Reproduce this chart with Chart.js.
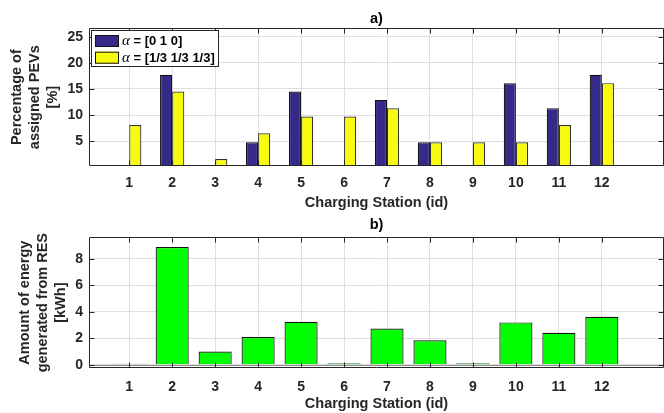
<!DOCTYPE html>
<html>
<head>
<meta charset="utf-8">
<script src="https://cdn.jsdelivr.net/npm/chart.js@4.4.1/dist/chart.umd.min.js"></script>
<style>
  body { margin: 0; background: #fff; }
  .panel { position: absolute; left: 0; width: 664px; }
</style>
</head>
<body>
<div class="panel" style="top:0;height:212px"><canvas id="chartA"></canvas></div>
<div class="panel" style="top:212px;height:201px"><canvas id="chartB"></canvas></div>
<script>
// data
const stations = [1, 2, 3, 4, 5, 6, 7, 8, 9, 10, 11, 12]
const seriesLabels = ['α = [0 1 0]', 'α = [1/3 1/3 1/3]']
const pevsAlpha010 = [0, 17.7, 0, 4.8, 14.5, 0, 12.9, 4.8, 0, 16.1, 11.3, 17.7]
const pevsAlphaEq = [8.1, 14.5, 1.6, 6.5, 9.7, 9.7, 11.3, 4.8, 4.8, 4.8, 8.1, 16.1]
const resEnergy = [0.08, 8.9, 1.0, 2.1, 3.25, 0.1, 2.73, 1.85, 0.1, 3.2, 2.42, 3.62]
const ticksA = [5, 10, 15, 20, 25]
const ticksB = [0, 2, 4, 6, 8]

const axisColor = '#262626'
const gridColor = '#dfdfdf'
const fontFamily = '"Liberation Sans", Arial, sans-serif'
const tickFont = { family: fontFamily, size: 14, weight: 'bold' }
const labelFont = { family: fontFamily, size: 14.5, weight: 'bold' }

Chart.defaults.font.family = fontFamily
Chart.defaults.animation = false

const toPoints = (vals) => stations.map((s, i) => ({ x: s, y: vals[i] }))

// MATLAB-like axes box with inward ticks (+ bar baseline)
const frame = {
  id: 'frame',
  beforeDatasetsDraw(chart, args, opts) {
    if (!opts.baseline) return
    const { ctx, chartArea: a, scales } = chart
    const y = Math.round(scales.y.getPixelForValue(0)) + 0.5
    ctx.save()
    ctx.strokeStyle = '#8a8a8a'
    ctx.lineWidth = 1.2
    ctx.beginPath()
    ctx.moveTo(a.left, y)
    ctx.lineTo(a.right, y)
    ctx.stroke()
    ctx.restore()
  },
  afterDatasetsDraw(chart) {
    const { ctx, chartArea: a, scales } = chart
    const l = Math.round(a.left) + 0.5, r = Math.round(a.right) - 0.5
    const t = Math.round(a.top) + 0.5, b = Math.round(a.bottom) - 0.5
    ctx.save()
    ctx.strokeStyle = axisColor
    ctx.lineWidth = 1
    ctx.beginPath()
    ctx.rect(l, t, r - l, b - t)
    scales.x.ticks.forEach(tk => {
      const px = Math.round(scales.x.getPixelForValue(tk.value)) + 0.5
      ctx.moveTo(px, t); ctx.lineTo(px, t + 5)
      ctx.moveTo(px, b); ctx.lineTo(px, b - 5)
    })
    scales.y.ticks.forEach(tk => {
      const py = Math.round(scales.y.getPixelForValue(tk.value)) + 0.5
      ctx.moveTo(l, py); ctx.lineTo(l + 5, py)
      ctx.moveTo(r, py); ctx.lineTo(r - 5, py)
    })
    ctx.stroke()
    ctx.restore()
  }
}

// legend box inside the top-left corner of the axes
const innerLegend = {
  id: 'innerLegend',
  afterDraw(chart, args, opts) {
    if (!opts.show) return
    const { ctx, chartArea: a } = chart
    const x0 = Math.round(a.left) + 2, y0 = Math.round(a.top) + 2
    ctx.save()
    ctx.fillStyle = '#fff'
    ctx.fillRect(x0, y0, 127, 36)
    ctx.strokeStyle = axisColor
    ctx.lineWidth = 1
    ctx.strokeRect(x0 + 0.5, y0 + 0.5, 127, 36)
    chart.data.datasets.forEach((ds, i) => {
      const sy = y0 + 5 + i * 16.7
      ctx.fillStyle = ds.backgroundColor
      ctx.fillRect(x0 + 4, sy, 24, 12)
      ctx.strokeStyle = '#111'
      ctx.strokeRect(x0 + 4.5, sy + 0.5, 23, 11)
      ctx.fillStyle = '#000'
      ctx.textBaseline = 'middle'
      ctx.font = 'italic 15px "Liberation Serif", serif'
      const sym = ds.label.slice(0, 1)
      ctx.fillText(sym, x0 + 31, sy + 6.5)
      const w = ctx.measureText(sym).width
      ctx.font = 'bold 13px ' + fontFamily
      ctx.fillText(ds.label.slice(1), x0 + 31 + w, sy + 6.5)
    })
    ctx.restore()
  }
}

function xAxis(height, pad) {
  return {
    type: 'linear',
    min: 0.064,
    max: 13.447,
    offset: false,
    afterBuildTicks: s => { s.ticks = stations.map(v => ({ value: v })) },
    afterFit: s => { s.height = height },
    grid: { color: gridColor, drawTicks: false, offset: false },
    border: { display: false },
    ticks: { font: tickFont, color: axisColor, padding: pad, autoSkip: false, maxRotation: 0 },
    title: {
      display: true, text: 'Charging Station (id)', font: labelFont, color: axisColor,
      padding: { top: 0, bottom: 0.8 }
    }
  }
}

function yAxis(min, max, tickVals, titleLines, titlePad) {
  return {
    min: min,
    max: max,
    afterBuildTicks: s => { s.ticks = tickVals.map(v => ({ value: v })) },
    afterFit: s => { s.width = 89 },
    grid: { color: gridColor, drawTicks: false },
    border: { display: false },
    ticks: { font: tickFont, color: axisColor, padding: 6 },
    title: {
      display: true, text: titleLines, color: axisColor,
      font: { family: fontFamily, size: 14.5, weight: 'bold', lineHeight: 1.25 },
      padding: { top: titlePad, bottom: 0 }
    }
  }
}

// a) share of PEVs per station
new Chart(document.getElementById('chartA'), {
  type: 'bar',
  data: {
    datasets: [{
      label: seriesLabels[0],
      data: toPoints(pevsAlpha010),
      backgroundColor: '#352a87',
      borderColor: '#111',
      borderWidth: 1.2,
      categoryPercentage: 0.565,
      barPercentage: 1
    }, {
      label: seriesLabels[1],
      data: toPoints(pevsAlphaEq),
      backgroundColor: '#f9fb0e',
      borderColor: '#333',
      borderWidth: 1.2,
      categoryPercentage: 0.565,
      barPercentage: 1
    }]
  },
  plugins: [frame, innerLegend],
  options: {
    responsive: true,
    maintainAspectRatio: false,
    layout: { padding: { left: 0, right: -1, top: 0, bottom: 0 } },
    plugins: {
      legend: { display: false },
      tooltip: { enabled: false },
      title: {
        display: true, text: 'a)', fullSize: false, color: '#000',
        font: labelFont, padding: { top: 10.4, bottom: 0.5 }
      },
      frame: { baseline: false },
      innerLegend: { show: true }
    },
    scales: {
      x: xAxis(46, 9),
      y: yAxis(0.25, 26.6, ticksA, ['Percentage of', 'assigned PEVs', '[%]'], 7.5)
    }
  }
})

// b) energy from RES per station
new Chart(document.getElementById('chartB'), {
  type: 'bar',
  data: {
    datasets: [{
      label: 'RES energy',
      data: toPoints(resEnergy),
      backgroundColor: '#00ff00',
      borderColor: '#111',
      borderWidth: 1.2,
      categoryPercentage: 1,
      barPercentage: 0.77
    }]
  },
  plugins: [frame, innerLegend],
  options: {
    responsive: true,
    maintainAspectRatio: false,
    layout: { padding: { left: 0, right: -1, top: 0, bottom: 0 } },
    plugins: {
      legend: { display: false },
      tooltip: { enabled: false },
      title: {
        display: true, text: 'b)', fullSize: false, color: '#000',
        font: labelFont, padding: { top: 3.8, bottom: 4.1 }
      },
      frame: { baseline: true },
      innerLegend: { show: false }
    },
    scales: {
      x: xAxis(45, 11),
      y: yAxis(-0.25, 9.64, ticksB, ['Amount of energy', 'generated from RES', '[kWh]'], 16)
    }
  }
})
</script>
</body>
</html>
